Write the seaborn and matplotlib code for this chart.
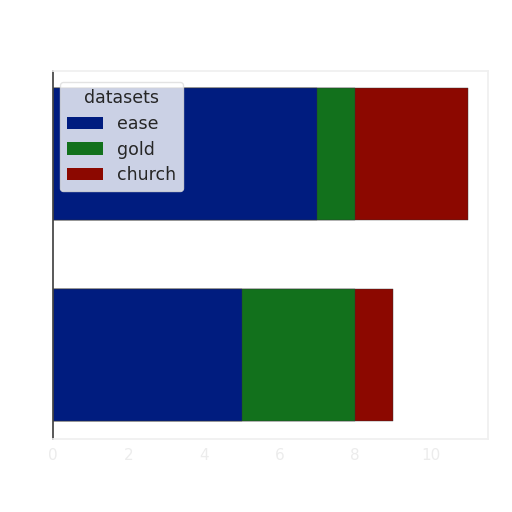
import matplotlib
matplotlib.use("Agg")
import matplotlib.pyplot as plt
import seaborn as sns
import pandas as pd
import numpy as np
from matplotlib.patches import Patch

categories = ["row 1", "row 2"]
ease = [7, 5]
gold = [1, 3]
church = [3, 1]
series_names = ["ease", "gold", "church"]
colors = ["#001c7f", "#12711c", "#8c0800"]

sns.set_theme(style="white")
plt.rcParams['font.family'] = ['DejaVu Sans']

fig = plt.figure(figsize=(5.12, 5.12), dpi=100)
ax = fig.add_axes([0.1035, 0.1426, 0.8495, 0.7184])

df = pd.DataFrame({"cat": categories, "ease": ease, "gold": gold, "church": church})
df["c_ease"] = df["ease"]
df["c_gold"] = df["ease"] + df["gold"]
df["c_church"] = df["c_gold"] + df["church"]

for col, c in zip(["c_church", "c_gold", "c_ease"], [colors[2], colors[1], colors[0]]):
    sns.barplot(data=df, x=col, y="cat", color=c, saturation=1, width=0.66,
                orient="h", ax=ax, edgecolor="#333333", linewidth=0.3)

ax.set_xlim(0.0, 11.52)
ax.set_ylim(1.418, -0.413)
ax.set_xticks([0, 2, 4, 6, 8, 10])
ax.tick_params(axis="x", colors="#f0f0f0", labelcolor="#ececec", length=3)
ax.tick_params(axis="y", labelleft=False, length=0)
ax.set_xlabel("")
ax.set_ylabel("")
for s in ["top", "right", "bottom"]:
    ax.spines[s].set_color("#f0f0f0")
ax.spines["left"].set_color("#444444")

handles = [Patch(facecolor=c, edgecolor="none", label=n) for c, n in zip(colors, series_names)]
leg = ax.legend(handles=handles, title="datasets", loc="upper left", fontsize=12.5,
                title_fontsize=12.5, frameon=True, framealpha=0.8,
                handlelength=2.1, borderaxespad=0, labelspacing=0.45,
                bbox_to_anchor=(60 / 512, 1 - 82 / 512), bbox_transform=fig.transFigure)
leg.get_frame().set_facecolor("white")
leg.get_frame().set_edgecolor("#dddddd")

fig.savefig("out.png", dpi=100)
